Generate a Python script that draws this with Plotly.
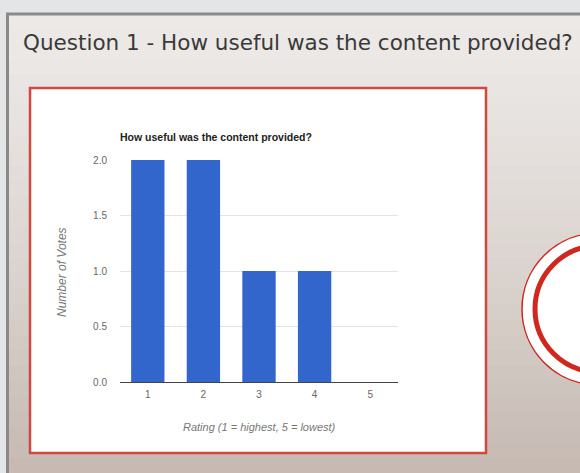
import plotly.graph_objects as go

# ---- data ----
ratings = ["1", "2", "3", "4", "5"]
votes = [2, 2, 1, 1, 0]
y_ticks = [0.0, 0.5, 1.0, 1.5, 2.0]
y_tick_labels = ["0.0", "0.5", "1.0", "1.5", "2.0"]

slide_title = "Question 1 - How useful was the content provided?"
chart_title = "How useful was the content provided?"
x_title = "Rating (1 = highest, 5 = lowest)"
y_title = "Number of Votes"

W, H = 580, 473
L, R, T, B = 120, 398, 160, 382  # plot area pixels


def px(x):
    return (x - L) / (R - L)


def py(y):
    return (B - y) / (B - T)


def lerp(c1, c2, t):
    return "#%02x%02x%02x" % tuple(round(a + (b - a) * t) for a, b in zip(c1, c2))


shapes = []
# slide background gradient (bands)
top_c = (236, 233, 231)
bot_c = (198, 186, 178)
n = 30
y0 = 13
for i in range(n):
    ya = y0 + (H - y0) * i / n
    yb = y0 + (H - y0) * (i + 1) / n + 1
    shapes.append(dict(type="rect", xref="paper", yref="paper",
                       x0=px(7), x1=px(W + 5), y0=py(ya), y1=py(min(yb, H + 2)),
                       fillcolor=lerp(top_c, bot_c, (i / (n - 1)) ** 1.3),
                       line=dict(width=0), layer="below"))
# slide border
shapes.append(dict(type="rect", xref="paper", yref="paper",
                   x0=px(7.5), x1=px(W + 10), y0=py(14), y1=py(H + 10),
                   line=dict(color="#8a8a8a", width=3), fillcolor="rgba(0,0,0,0)",
                   layer="below"))
# red framed white box
shapes.append(dict(type="rect", xref="paper", yref="paper",
                   x0=px(30), x1=px(486), y0=py(88), y1=py(453),
                   fillcolor="#ffffff", line=dict(color="#d2483f", width=2.5),
                   layer="below"))
# red circle decoration
cx, cy = 598, 309
for r, fill, lc, lw in [(76, "#ffffff", "#cc2a20", 1.5),
                        (63, "rgba(0,0,0,0)", "#d0281e", 5)]:
    shapes.append(dict(type="circle", xref="paper", yref="paper",
                       x0=px(cx - r), x1=px(cx + r), y0=py(cy - r), y1=py(cy + r),
                       fillcolor=fill, line=dict(color=lc, width=lw), layer="above"))

fig = go.Figure(go.Bar(
    x=ratings, y=votes, marker=dict(color="#3366cc", line=dict(width=0)),
    width=0.6,
))

annotations = [
    dict(text=slide_title, xref="paper", yref="paper", x=px(21), y=py(42),
         xanchor="left", yanchor="middle", showarrow=False,
         font=dict(family="DejaVu Sans", size=21.5, color="#3a3a3a")),
    dict(text="<b>" + chart_title + "</b>", xref="paper", yref="paper",
         x=px(118), y=py(137), xanchor="left", yanchor="middle", showarrow=False,
         font=dict(family="Liberation Sans", size=10.5, color="#222222")),
    dict(text="<i>" + x_title + "</i>", xref="paper", yref="paper",
         x=px(259), y=py(427), xanchor="center", yanchor="middle", showarrow=False,
         font=dict(family="Liberation Sans", size=11, color="#777777")),
    dict(text="<i>" + y_title + "</i>", xref="paper", yref="paper",
         x=px(62), y=py(272), xanchor="center", yanchor="middle", showarrow=False,
         textangle=-90, font=dict(family="Liberation Sans", size=12, color="#777777")),
]

fig.update_layout(
    width=W, height=H,
    margin=dict(l=L, r=W - R, t=T, b=H - B, pad=0),
    paper_bgcolor="#e4e5e6",
    plot_bgcolor="rgba(0,0,0,0)",
    showlegend=False,
    shapes=shapes,
    annotations=annotations,
    xaxis=dict(type="category", showgrid=False, zeroline=False, showline=True,
               linecolor="#444444", linewidth=1.2, ticks="",
               tickfont=dict(family="Liberation Sans", size=10, color="#666666"),
               ticklabelstandoff=3),
    yaxis=dict(range=[0, 2.0], tickvals=y_ticks, ticktext=y_tick_labels,
               showgrid=True, gridcolor="#e3e3e3", gridwidth=1, zeroline=False,
               showline=False, ticks="",
               tickfont=dict(family="Liberation Sans", size=10, color="#666666"),
               ticklabelstandoff=12),
    bargap=0.4,
)

fig.write_html("out.html",
               config={"displayModeBar": False},
               post_script="document.body.style.margin='0';"
                           "document.body.style.overflow='hidden';")
